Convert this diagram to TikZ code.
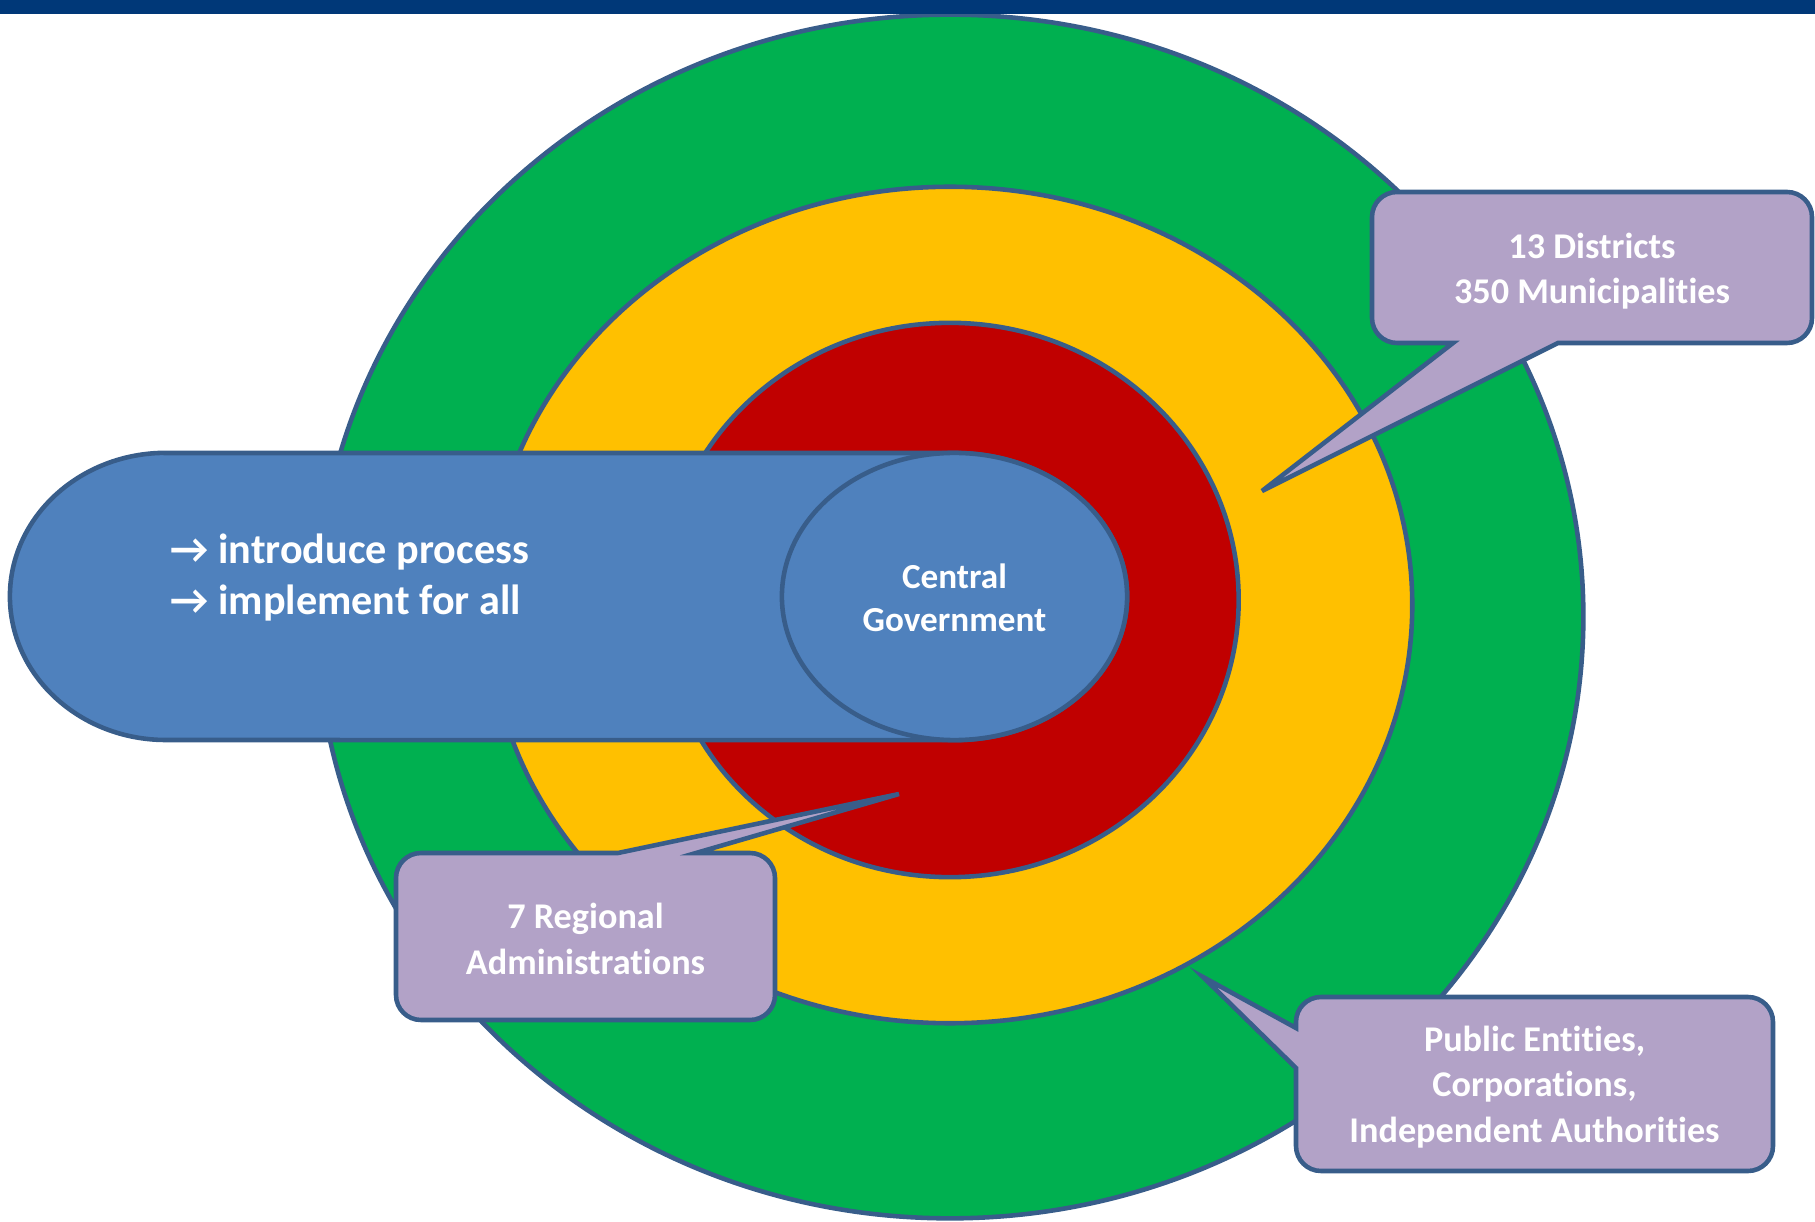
\documentclass[tikz,border=0pt]{standalone}
\usepackage{fontspec}
\setmainfont{Carlito}[Ligatures=NoCommon]
\usetikzlibrary{positioning}

\definecolor{ringgreen}{RGB}{0,176,80}
\definecolor{ringyellow}{RGB}{255,192,0}
\definecolor{ringred}{RGB}{192,0,0}
\definecolor{barblue}{RGB}{79,129,189}
\definecolor{edgeblue}{RGB}{56,93,138}
\definecolor{calloutlilac}{RGB}{178,162,199}
\definecolor{topnavy}{RGB}{0,56,120}

\tikzset{
	ring/.style={draw=edgeblue, line width=1.3pt},
	callout/.style={draw=edgeblue, fill=calloutlilac, line width=1.3pt},
	calltext/.style={text=white, inner sep=0pt, align=center, font=\bfseries\fontsize{10.3}{12.9}\selectfont},
	bartext/.style={text=white, inner sep=0pt, anchor=base west, font=\bfseries\fontsize{12}{14.5}\selectfont}
}

\begin{document}
\begin{tikzpicture}[x=0.01cm, y=-0.01cm]
			%%%%% START %%%%%
			\useasboundingbox (0,0) rectangle (1815,1222);
			
			\draw[ring, fill=ringgreen] (950,616.5) ellipse [x radius=6.33cm, y radius=6.015cm];
			\draw[ring, fill=ringyellow] (950,605) ellipse [x radius=4.62cm, y radius=4.18cm];
			\draw[ring, fill=ringred] (950,600) ellipse [x radius=2.885cm, y radius=2.77cm];
			
			\draw[callout] (1420,343) -- (1453,343) -- (1262,491) -- (1558,343) [rounded corners=0.25cm] -- (1812,343) -- (1812,192) -- (1372,192) -- (1372,343) [sharp corners] -- cycle;
			\node[calltext] (dist) at (1592,271) {13 Districts\\350 Municipalities};
			
			\draw[ring, fill=barblue] (166,453) -- (954.5,453) arc[start angle=90, end angle=-90, x radius=1.725cm, y radius=1.435cm] -- (166,740) arc[start angle=270, end angle=90, x radius=1.56cm, y radius=1.435cm] -- cycle;
			\draw[ring, fill=barblue] (954.5,596.5) ellipse [x radius=1.725cm, y radius=1.435cm];
			\node[bartext] (intro) at (170,564) {→ introduce process};
			\node[bartext] (impl) at (170,615) {→ implement for all};
			\node[calltext, font=\bfseries\fontsize{10}{12.2}\selectfont] (govt) at (954.5,598) {Central\\Government};
			
			\draw[callout] (500,853) -- (618,853) -- (899,794) -- (696,853) [rounded corners=0.25cm] -- (775,853) -- (775,1020) -- (396,1020) -- (396,853) [sharp corners] -- cycle;
			\node[calltext] (regio) at (585.5,939) {7 Regional\\Administrations};
			
			\draw[callout] (1296,1025) -- (1296,1028) -- (1203,977) -- (1296,1068) [rounded corners=0.25cm] -- (1296,1171) -- (1773,1171) -- (1773,997) -- (1296,997) [sharp corners] -- cycle;
			\node[calltext] (entit) at (1534.5,1087) {Public Entities,\\Corporations,\\Independent Authorities};
			
			\fill[topnavy] (0,0) rectangle (1815,14);
			%%%%% END %%%%%
		\end{tikzpicture}
\end{document}
